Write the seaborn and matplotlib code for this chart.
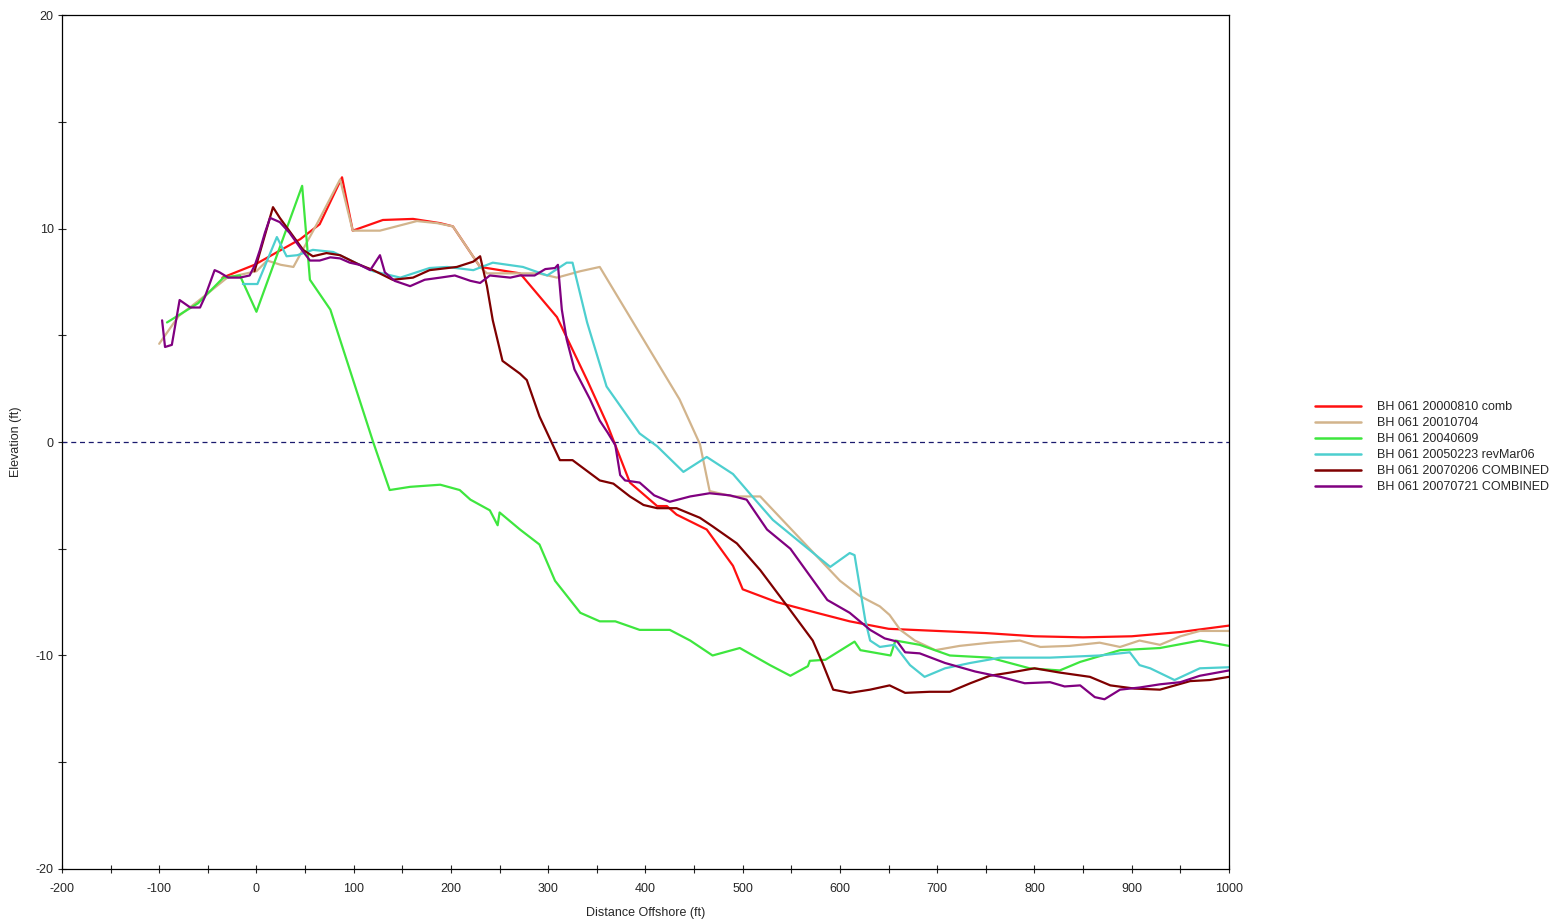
import numpy as np
import pandas as pd
import seaborn as sns
import matplotlib.pyplot as plt
from matplotlib.ticker import MultipleLocator

# Survey profiles (distance offshore ft, elevation ft)
SERIES = [
    "BH 061 20000810 comb",
    "BH 061 20010704",
    "BH 061 20040609",
    "BH 061 20050223 revMar06",
    "BH 061 20070206 COMBINED",
    "BH 061 20070721 COMBINED",
]
COLORS = ["#ff1010", "#d2b48c", "#3ee63e", "#4dcfcf", "#7f0000", "#800080"]

red_x = [-35, -2, 45, 65, 88, 99, 130, 161, 189, 202, 230, 271, 309, 340, 360,
         384, 412, 422, 432, 463, 490, 500, 535, 576, 610, 650, 700, 750, 800, 850,
         900, 950, 1000]
red_y = [7.7, 8.3, 9.5, 10.2, 12.4, 9.9, 10.4, 10.45, 10.25, 10.1, 8.2, 7.9, 5.85,
         2.9, 0.9, -1.9, -3.0, -3.0, -3.4, -4.1, -5.8, -6.9, -7.5, -8.0, -8.4,
         -8.75, -8.85, -8.95, -9.1, -9.15, -9.1, -8.9, -8.6]

tan_x = [-100, -80, -60, -30, 0, 11, 25, 38, 62, 86, 99, 127, 165, 186, 202, 230, 237,
         290, 309, 333, 353, 435, 456, 466, 490, 518, 600, 620, 641, 651, 662, 677, 698,
         723, 754, 785, 806, 836, 867, 888, 908, 929, 950, 970, 1000]
tan_y = [4.6, 5.9, 6.6, 7.7, 8.0, 8.5, 8.3, 8.2, 10.2, 12.3, 9.9, 9.9, 10.35, 10.25,
         10.1, 8.2, 7.9, 7.9, 7.7, 8.0, 8.2, 2.0, -0.1, -2.3, -2.55, -2.55, -6.5, -7.2,
         -7.7, -8.1, -8.8, -9.3, -9.75, -9.55, -9.4, -9.3, -9.6, -9.55, -9.4, -9.6,
         -9.3, -9.5, -9.1, -8.85, -8.85]

grn_x = [-92, -60, -34, -17, 0, 47, 55, 76, 120, 137, 158, 189, 209, 220, 240, 248,
         250, 271, 291, 307, 333, 353, 369, 394, 425, 446, 469, 497, 528, 549, 567,
         569, 585, 615, 621, 652, 657, 682, 713, 754, 795, 826, 847, 888, 929, 970,
         1000]
grn_y = [5.6, 6.5, 7.7, 7.8, 6.1, 12.0, 7.6, 6.2, 0.0, -2.25, -2.1, -2.0, -2.25, -2.7,
         -3.2, -3.9, -3.3, -4.1, -4.8, -6.5, -8.0, -8.4, -8.4, -8.8, -8.8, -9.3, -10.0,
         -9.65, -10.45, -10.95, -10.5, -10.25, -10.2, -9.35, -9.75, -10.0, -9.3, -9.5,
         -10.0, -10.1, -10.6, -10.7, -10.3, -9.75, -9.65, -9.3, -9.55]

cyn_x = [-14, 1, 21, 31, 42, 58, 79, 120, 148, 178, 196, 223, 243, 274, 299, 319, 325,
         340, 360, 394, 412, 439, 463, 490, 507, 531, 590, 610, 615, 626, 631, 641, 656,
         672, 687, 708, 734, 765, 816, 867, 898, 908, 919, 944, 970, 1000]
cyn_y = [7.4, 7.4, 9.6, 8.7, 8.75, 9.0, 8.9, 8.0, 7.7, 8.15, 8.2, 8.05, 8.4, 8.2, 7.8,
         8.4, 8.4, 5.6, 2.6, 0.4, -0.2, -1.4, -0.7, -1.5, -2.4, -3.65, -5.85, -5.2,
         -5.3, -8.35, -9.3, -9.6, -9.5, -10.45, -11.0, -10.6, -10.35, -10.1, -10.1,
         -10.0, -9.85, -10.45, -10.6, -11.15, -10.6, -10.55]

drd_x = [-2, 17, 24, 48, 58, 72, 86, 106, 120, 140, 161, 178, 206, 223, 230, 237, 243,
         253, 271, 278, 291, 312, 325, 353, 367, 384, 398, 412, 432, 456, 469, 494,
         518, 546, 572, 582, 593, 610, 631, 651, 667, 692, 713, 734, 754, 775, 800,
         826, 857, 878, 903, 929, 960, 980, 1000]
drd_y = [8.0, 11.0, 10.5, 9.0, 8.7, 8.85, 8.75, 8.3, 8.05, 7.6, 7.7, 8.05, 8.2, 8.45,
         8.7, 7.3, 5.7, 3.8, 3.2, 2.9, 1.2, -0.85, -0.85, -1.8, -1.95, -2.55, -2.95,
         -3.1, -3.1, -3.55, -3.95, -4.75, -6.0, -7.7, -9.3, -10.35, -11.6, -11.75,
         -11.6, -11.4, -11.75, -11.7, -11.7, -11.3, -10.95, -10.8, -10.6, -10.8,
         -11.0, -11.4, -11.55, -11.6, -11.2, -11.15, -11.0]

prp_x = [-97, -94, -87, -79, -68, -58, -53, -43, -38, -29, -17, -7, -1.5, 3.6, 8.7, 14,
         24, 34, 45, 55, 65, 76, 86, 96, 106, 117, 127, 132, 142, 158, 173, 189, 204,
         220, 230, 240, 261, 271, 286, 297, 307, 310, 314, 319, 327, 343, 353, 361, 369,
         374, 379, 394, 409, 425, 446, 466, 487, 504, 525, 549, 587, 610, 631, 646, 659,
         667, 682, 708, 739, 765, 790, 816, 831, 847, 862, 872, 888, 908, 929, 950, 970,
         1000]
prp_y = [5.7, 4.45, 4.55, 6.65, 6.3, 6.3, 6.8, 8.05, 7.95, 7.7, 7.7, 7.8, 8.3, 9.0,
         9.8, 10.5, 10.3, 9.8, 9.1, 8.5, 8.5, 8.65, 8.6, 8.4, 8.3, 8.05, 8.75, 7.95,
         7.55, 7.3, 7.6, 7.7, 7.8, 7.55, 7.45, 7.8, 7.7, 7.8, 7.8, 8.1, 8.15, 8.3, 6.2,
         4.8, 3.4, 2.0, 1.0, 0.45, -0.15, -1.55, -1.8, -1.9, -2.5, -2.8, -2.55, -2.4,
         -2.5, -2.7, -4.1, -5.0, -7.4, -8.0, -8.8, -9.2, -9.35, -9.85, -9.9, -10.35,
         -10.75, -11.0, -11.3, -11.25, -11.45, -11.4, -11.95, -12.05, -11.6, -11.5,
         -11.35, -11.25, -10.95, -10.7]

DPI = 100
FIGSIZE = [15.68, 9.22]

sns.set_style("white")
plt.rcParams["font.family"] = ["Liberation Sans", "DejaVu Sans"]
plt.rcParams["axes.unicode_minus"] = False


def main():
    frames = []
    for name, xs, ys in zip(
        SERIES,
        [red_x, tan_x, grn_x, cyn_x, drd_x, prp_x],
        [red_y, tan_y, grn_y, cyn_y, drd_y, prp_y],
    ):
        frames.append(pd.DataFrame({"distance": xs, "elevation": ys, "survey": name}))
    df = pd.concat(frames, ignore_index=True)

    fig = plt.figure(figsize=FIGSIZE, dpi=DPI)
    ax = fig.add_axes([0.0395, 0.0575, 0.7443, 0.9262])

    # zero datum line
    ax.axhline(0, color="#1a1a6e", linestyle=(0, (4, 3)), linewidth=0.9, zorder=1)

    sns.lineplot(
        data=df,
        x="distance",
        y="elevation",
        hue="survey",
        hue_order=SERIES,
        palette=COLORS,
        sort=False,
        estimator=None,
        linewidth=1.6,
        ax=ax,
    )

    ax.set_xlim(-200, 1000)
    ax.set_ylim(-20, 20)
    ax.xaxis.set_major_locator(MultipleLocator(100))
    ax.xaxis.set_minor_locator(MultipleLocator(50))
    ax.yaxis.set_major_locator(MultipleLocator(10))
    ax.yaxis.set_minor_locator(MultipleLocator(5))
    ax.tick_params(which="both", direction="inout", length=6, width=0.8,
                   labelsize=9, bottom=True, left=True)
    ax.tick_params(axis="x", pad=7)
    ax.tick_params(axis="y", pad=3)
    ax.set_xlabel("Distance Offshore (ft)", fontsize=9, labelpad=9)
    ax.set_ylabel("Elevation (ft)", fontsize=9)
    ax.yaxis.set_label_coords(-0.034, 0.5)
    for spine in ax.spines.values():
        spine.set_linewidth(0.9)
        spine.set_color("black")

    handles, labels = ax.get_legend_handles_labels()
    leg = ax.legend(
        handles=handles,
        labels=labels,
        loc="center left",
        bbox_to_anchor=(1.064, 0.494),
        frameon=False,
        fontsize=9,
        handlelength=3.7,
        handletextpad=1.3,
        labelspacing=0.32,
    )
    for line in leg.get_lines():
        line.set_linewidth(1.8)

    plt.savefig("out.png", dpi=DPI)


if __name__ == "__main__":
    main()
